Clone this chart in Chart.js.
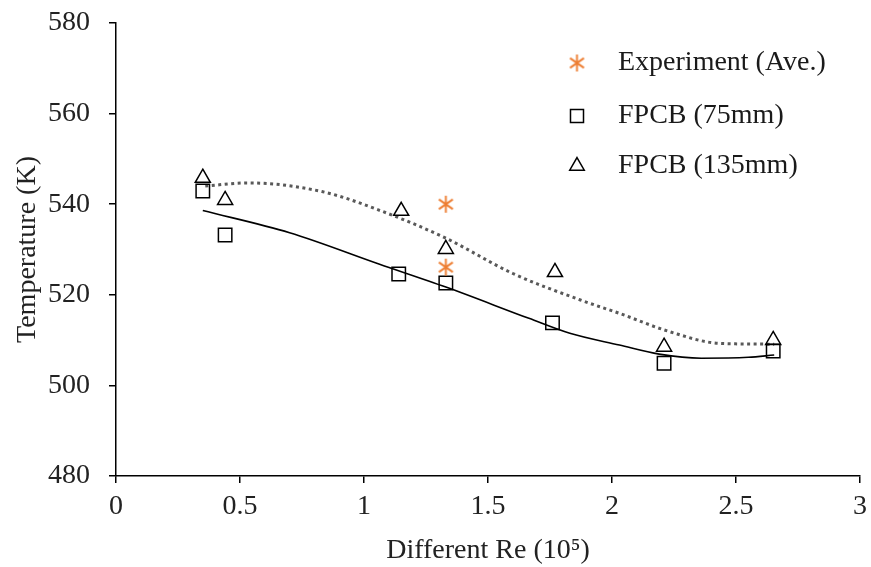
<!DOCTYPE html>
<html>
<head>
<meta charset="utf-8">
<script src="https://cdn.jsdelivr.net/npm/chart.js@4"></script>
<style>
  body { margin: 0; background: #fff; }
  #chartBox { width: 871px; height: 567px; }
</style>
</head>
<body>
<div id="chartBox"><canvas id="tempChart" width="871" height="567"></canvas></div>
<script>
// measured points
const re75 = [0.35, 0.44, 1.14, 1.33, 1.76, 2.21, 2.65];
const temp75 = [542.9, 533.2, 524.6, 522.6, 513.8, 504.9, 507.6];
const re135 = [0.35, 0.44, 1.15, 1.33, 1.77, 2.21, 2.65];
const temp135 = [545.8, 540.9, 538.5, 530.1, 525.0, 508.5, 510.0];
const reExp = [1.33, 1.33];
const tempExp = [540.0, 526.1];

// trend lines
const trendRe75 = [0.35, 0.70, 1.06, 1.33, 1.665, 1.83, 2.03, 2.19, 2.36, 2.55, 2.654];
const trendT75 = [538.6, 533.7, 526.8, 521.7, 514.8, 511.5, 508.9, 506.9, 506.0, 506.2, 506.7];
const trendRe135 = [0.36, 0.53, 0.83, 1.06, 1.33, 1.60, 1.87, 2.03, 2.23, 2.43, 2.654];
const trendT135 = [544.0, 544.7, 542.8, 538.7, 532.5, 524.7, 518.9, 515.9, 511.9, 509.3, 509.1];

const xTicks = [0, 0.5, 1, 1.5, 2, 2.5, 3];
const yTicks = [480, 500, 520, 540, 560, 580];

const seriesNames = ['Experiment (Ave.)', 'FPCB (75mm)', 'FPCB (135mm)'];
const orange = '#ED7D31';
const serif = "'Liberation Serif', 'Times New Roman', serif";
const fontSize = 28;

function toXY(xs, ys) {
    return xs.map((x, i) => ({ x: x, y: ys[i] }));
}

// six-armed asterisk like the one in the figure
function makeAsterisk(size, color) {
    const c = document.createElement('canvas');
    c.width = size;
    c.height = size;
    const g = c.getContext('2d');
    const r = size / 2 - 1;
    g.strokeStyle = color;
    g.lineWidth = 1.9;
    g.beginPath();
    [90, 35, 145].forEach(deg => {
        const a = deg * Math.PI / 180;
        g.moveTo(size / 2 - Math.cos(a) * r, size / 2 - Math.sin(a) * r);
        g.lineTo(size / 2 + Math.cos(a) * r, size / 2 + Math.sin(a) * r);
    });
    g.stroke();
    return c;
}
const asterisk = makeAsterisk(19, orange);

// legend drawn inside the plot, top right
const insideLegend = {
    id: 'insideLegend',
    afterDraw(chart) {
        const ctx = chart.ctx;
        const items = [
            { label: seriesNames[0], style: asterisk, r: 9, y: 63 },
            { label: seriesNames[1], style: 'rect', r: 9.2, y: 116 },
            { label: seriesNames[2], style: 'triangle', r: 8.4, y: 166 }
        ];
        ctx.save();
        items.forEach(it => {
            ctx.fillStyle = 'rgba(255,255,255,0)';
            ctx.strokeStyle = '#000';
            ctx.lineWidth = 1.5;
            Chart.helpers.drawPoint(ctx, { pointStyle: it.style, radius: it.r, rotation: 0, borderWidth: 1.5 }, 577, it.y);
            ctx.fillStyle = '#1a1a1a';
            ctx.font = fontSize + 'px ' + serif;
            ctx.textBaseline = 'middle';
            ctx.textAlign = 'left';
            ctx.fillText(it.label, 618, it.y);
        });
        ctx.restore();
    }
};

new Chart(document.getElementById('tempChart'), {
    type: 'scatter',
    data: {
        datasets: [
            {
                label: 'trend 75',
                data: toXY(trendRe75, trendT75),
                showLine: true,
                borderColor: '#000',
                borderWidth: 1.6,
                pointRadius: 0,
                cubicInterpolationMode: 'monotone',
                order: 5
            },
            {
                label: 'trend 135',
                data: toXY(trendRe135, trendT135),
                showLine: true,
                borderColor: '#595959',
                borderWidth: 3,
                borderDash: [3, 3.5],
                pointRadius: 0,
                cubicInterpolationMode: 'monotone',
                order: 4
            },
            {
                label: seriesNames[1],
                data: toXY(re75, temp75),
                pointStyle: 'rect',
                pointRadius: 9.5,
                pointBorderWidth: 1.5,
                pointBorderColor: '#000',
                pointBackgroundColor: 'rgba(255,255,255,0)',
                order: 2
            },
            {
                label: seriesNames[2],
                data: toXY(re135, temp135),
                pointStyle: 'triangle',
                pointRadius: 8.7,
                pointBorderWidth: 1.5,
                pointBorderColor: '#000',
                pointBackgroundColor: 'rgba(255,255,255,0)',
                order: 1
            },
            {
                label: seriesNames[0],
                data: toXY(reExp, tempExp),
                pointStyle: asterisk,
                pointRadius: 9.5,
                order: 0
            }
        ]
    },
    options: {
        responsive: false,
        animation: false,
        layout: { padding: { top: 23, right: 9, bottom: 0, left: 0 } },
        plugins: {
            legend: { display: false },
            tooltip: { enabled: false }
        },
        scales: {
            x: {
                type: 'linear',
                min: 0,
                max: 3,
                afterBuildTicks: scale => { scale.ticks = xTicks.map(v => ({ value: v })); },
                afterFit: scale => {
                    scale.height = 91;
                    scale.paddingLeft = 0;
                    scale.paddingRight = 0;
                },
                border: { color: '#000', width: 1.5 },
                grid: { drawOnChartArea: false, color: '#000', tickLength: 7, lineWidth: 1.5 },
                ticks: {
                    font: { family: serif, size: fontSize },
                    color: '#222',
                    padding: 7,
                    maxRotation: 0,
                    callback: value => String(value)
                },
                title: {
                    display: true,
                    text: 'Different Re (10\u2075)',
                    font: { family: serif, size: fontSize },
                    color: '#222',
                    padding: { top: 0, bottom: 0 }
                }
            },
            y: {
                min: 480,
                max: 580,
                afterBuildTicks: scale => { scale.ticks = yTicks.map(v => ({ value: v })); },
                afterFit: scale => {
                    scale.width = 116;
                    scale.paddingTop = 0;
                    scale.paddingBottom = 0;
                },
                border: { color: '#000', width: 1.5 },
                grid: { drawOnChartArea: false, color: '#000', tickLength: 7, lineWidth: 1.5 },
                ticks: {
                    font: { family: serif, size: fontSize },
                    color: '#222',
                    padding: 19
                },
                title: {
                    display: true,
                    text: 'Temperature (K)',
                    font: { family: serif, size: fontSize },
                    color: '#222',
                    padding: { top: 11, bottom: 0 }
                }
            }
        }
    },
    plugins: [insideLegend]
});
</script>
</body>
</html>
